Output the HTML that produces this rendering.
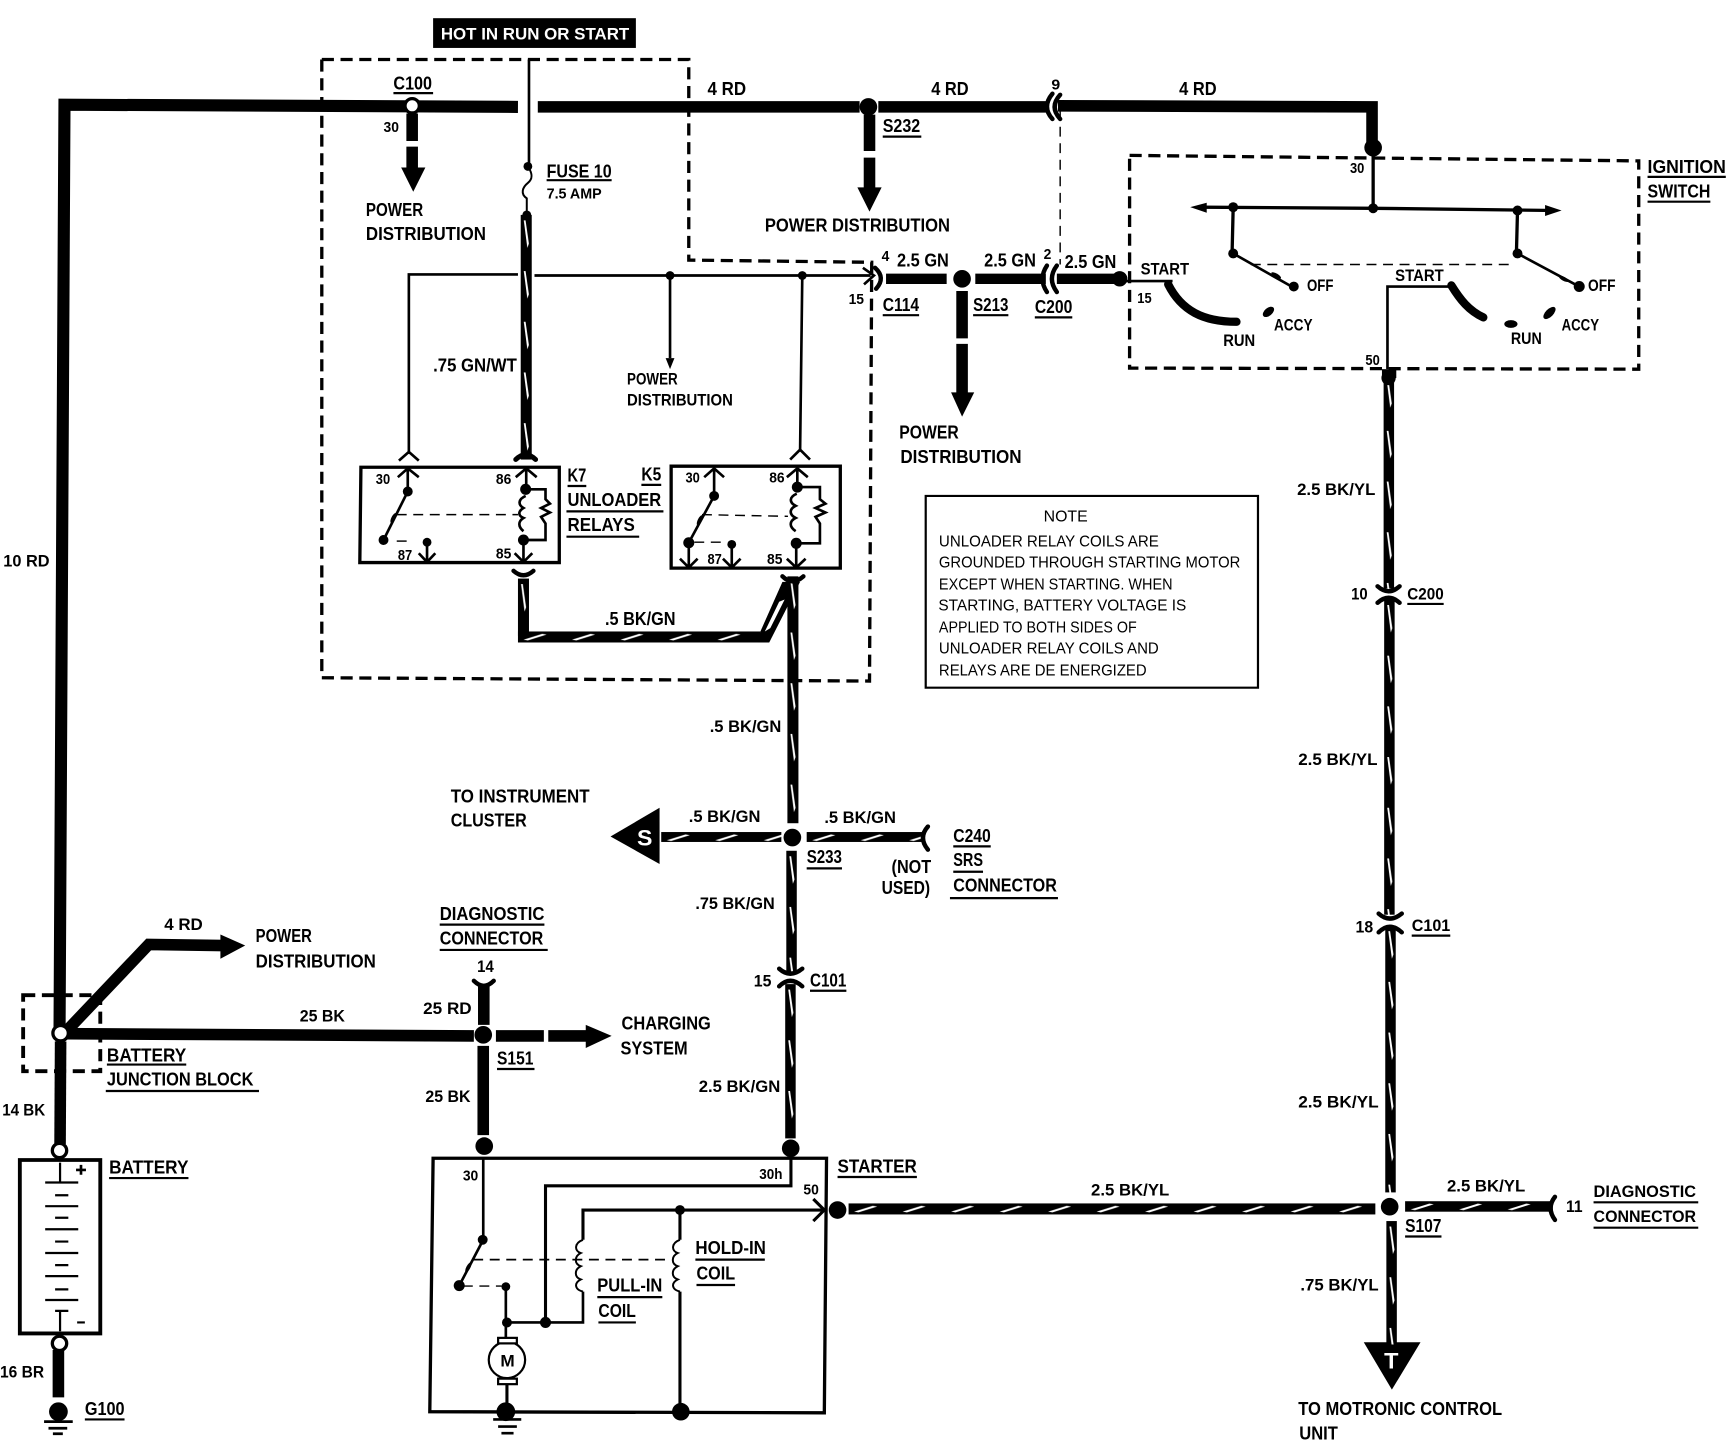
<!DOCTYPE html>
<html lang="en"><head><meta charset="utf-8"><title>Starting system wiring diagram</title>
<style>
html,body{margin:0;padding:0;background:#fff}
svg{display:block}
text{font-family:"Liberation Sans",sans-serif;font-weight:bold;font-size:17px;fill:#000;stroke:none}
.s{font-size:13.5px}
.m{font-size:15px}
.n{font-size:14px;font-weight:normal}
</style></head><body>
<svg xmlns="http://www.w3.org/2000/svg" width="1728" height="1440" viewBox="0 0 1568 1306.67">
<defs>
<pattern id="tv" patternUnits="userSpaceOnUse" width="10" height="46"><rect width="10" height="46" fill="#000"/><polygon points="2.800,5 4.400,5 7.400,26 6,30" fill="#fff"/></pattern>
<pattern id="th" patternUnits="userSpaceOnUse" width="44" height="10"><rect width="44" height="10" fill="#000"/><polygon points="5,7.500 22,2.200 26,2.800 9,8.200" fill="#fff"/></pattern>
</defs>
<rect width="1568" height="1307" fill="#fff"/>

<!-- dashed boxes -->
<g fill="none" stroke="#000" stroke-width="3" stroke-dasharray="11 6">
<path d="M292 54H625V236L791 238L789 618L292 615Z"/>
<path d="M1025 141L1487 146L1487 335L1025 334Z"/>
<path d="M21 903H91V972H21Z" stroke-width="3.500"/>
</g>

<!-- thick plain wires -->
<g fill="none" stroke="#000" stroke-width="10.500">
<path d="M54 940L58.500 95L470 97" stroke-width="11"/>
<path d="M488 97H780"/>
<path d="M797 97L950 97"/>
<path d="M960 96L1245 97V135"/>
<path d="M374 103V128M374 133V152"/>
<path d="M789 104V137M789 143V171"/>
<path d="M804 253H859M885 253H949M959 253H1014" stroke-width="9.500"/>
<path d="M873 264V307M873 312V357"/>
<path d="M55 945L54.500 1038"/>
<path d="M53 1225V1268"/>
<path d="M58 938L135 857L203 858"/>
<path d="M60 938L430 940"/>
<path d="M439 895V930M438.500 949V1030"/>
<path d="M450 940H493.500M497.500 940H532"/>
</g>

<!-- arrow heads -->
<g fill="#000">
<polygon points="364,152 386,152 375,174"/>
<polygon points="778,170 800,170 789,192"/>
<polygon points="863,356 884,356 873,378"/>
<polygon points="200,848 222.500,858 200,870"/>
<polygon points="531.500,930 555,940 531.500,951"/>
<polygon points="598.500,733 554,759 598.500,784"/>
<polygon points="1237.500,1218 1289,1218 1263,1261"/>
</g>

<!-- twisted wires -->
<g transform="translate(472.500,195)"><rect width="10" height="222" fill="url(#tv)"/></g>
<g transform="translate(470,525)"><rect width="10" height="52" fill="url(#tv)"/></g>
<g transform="translate(470,573)"><rect width="220" height="10" fill="url(#th)"/></g>
<polygon points="690,573 710,528 726,528 698,583 688,583" fill="#000"/>
<polygon points="699,570 712,544 707,546 694,573" fill="#fff"/>
<g transform="translate(714.500,523)"><rect width="10" height="224" fill="url(#tv)"/></g>
<g transform="translate(600,755)"><rect width="109" height="9" fill="url(#th)"/></g>
<g transform="translate(732,755)"><rect width="106" height="9" fill="url(#th)"/></g>
<g transform="translate(713.500,772)"><rect width="9.500" height="110" fill="url(#tv)"/></g>
<g transform="translate(712.500,893)"><rect width="9.500" height="140" fill="url(#tv)"/></g>
<g transform="translate(1255.500,340)"><rect width="9.500" height="194" fill="url(#tv)"/></g>
<g transform="translate(1256,544)"><rect width="9.500" height="286" fill="url(#tv)"/></g>
<g transform="translate(1257,840)"><rect width="9.500" height="242" fill="url(#tv)"/></g>
<g transform="translate(1258,1108)"><rect width="9.500" height="112" fill="url(#tv)"/></g>
<g transform="translate(770,1092)"><rect width="478" height="10" fill="url(#th)"/></g>
<g transform="translate(1275,1090)"><rect width="134" height="9.500" fill="url(#th)"/></g>

<!-- connectors -->
<g fill="none" stroke="#000" stroke-width="4" stroke-linecap="round">
<path d="M955 85Q945 97 955 108M962 86Q952 97 962 108"/>
<path d="M950 241Q942 253 950 265M959 241Q950 253 959 265"/>
<path d="M794 243Q804 252 795 262"/>
<path d="M1250 532Q1260 541 1270 532M1250 547Q1260 538 1270 547"/>
<path d="M1251 829Q1261 838 1272 829M1251 846Q1261 836 1272 846"/>
<path d="M707 879Q717 888 728 879M707 895Q717 885 728 895"/>
<path d="M430 890Q439 899 448 890"/>
<path d="M842 750Q833 760 842 771M1411 1086Q1403 1096 1411 1107"/>
<path d="M466 518Q475 526 484 518M710 523Q719 532 729 523"/>
<path d="M468 417Q477 408 486 417" stroke-width="4.500"/>
</g>

<!-- thin wires -->
<g fill="none" stroke="#000" stroke-width="2.400">
<path d="M480 54V150"/>
<path d="M479 151C483 157 484 162 479 166C474 170 472 176 478 180C478 186 478 190 478 195" stroke-width="1.800"/>
<path d="M470 249H371V412M362 418L371 410L380 418"/>
<path d="M485 250H790M783 243L793 250L784 258"/>
<path d="M608 250V325M728 250L726 410M717 417L726 408L735 417"/>
<path d="M1246 134V189" stroke-width="3"/>
<path d="M1090 188L1246 189L1410 191" stroke-width="3"/>
<path d="M1119 188L1118 230M1377 191L1376 230" stroke-width="3"/>
<path d="M1119 230L1172 260M1377 230L1433 260"/>
<path d="M1016 255H1064M1259 335V260H1316"/>
<!-- relay K7 -->
<path d="M361 433L370 425L380 433M370 425V446M370 446L348 490"/>
<path d="M387.500 492V510M380 502L387.500 510L395 502"/>
<path d="M468 433L477.500 425L487 433M477.500 425V444M477 444H495V453L499 457L491 461L499 465L491 469L495 475V490H475M475 490V510M467 502L475 510L483 502"/>
<path d="M477 450C470 453 470 458 475 461C470 464 470 468 475 470C470 473 470 478 475 482"/>
<!-- relay K5 -->
<path d="M639 433L648 425L657 433M648 425V450L625 492.500V515M617 507L625 515L633 507"/>
<path d="M664 494V515M656 507L664 515L672 507"/>
<path d="M714 433L723.500 425L733 433M723.500 425V442H744V453L749 457L740 461L749 465L740 469L744 475V493H722.500V515M714 507L722.500 515L731 507"/>
<path d="M723 448C716 451 716 456 722 459C716 462 716 467 722 470C716 473 716 478 722 482"/>
<!-- starter -->
<path d="M438.500 1050V1125L417 1166"/>
<path d="M459 1167V1214M460 1200H529V1172"/>
<path d="M495 1200V1076H717.700V1042" stroke-width="2.800"/>
<path d="M529 1125V1098H748M617 1098V1125M617 1172V1281M738 1088L748 1098L738 1108" stroke-width="2.800"/>
<path d="M529 1125C521 1128 521 1135 527 1137C521 1140 521 1147 527 1149C521 1152 521 1159 527 1161C521 1164 521 1170 529 1172" stroke-width="1.800"/>
<path d="M617 1125C609 1128 609 1135 615 1137C609 1140 609 1147 615 1149C609 1152 609 1159 615 1161C609 1164 609 1170 617 1172" stroke-width="1.800"/>
<path d="M460 1256V1281" stroke-width="2.800"/>
<!-- battery -->
<path d="M54.500 1055V1073M54.500 1189V1208M41 1073H71M50 1084.600H62M41 1094.500H71M50 1105H62M41 1115.400H71M50 1126.600H62M41 1137H71M50 1148H62M41 1158H71M50 1170H62M41 1179.600H71M50 1189.500H62M70 1200H77" stroke-width="2"/>
<path d="M69 1061.600H78M73.500 1057V1066"/>
<!-- grounds -->
<path d="M447.500 1288H473M452 1294.500H469M455 1300.500H466M40 1290H66M44 1296H61M48 1301H57"/>
</g>

<!-- dashed thin -->
<g fill="none" stroke="#000" stroke-width="1.300" stroke-dasharray="9 6">
<path d="M962 100V240"/>
<path d="M1135 240H1375"/>
<path d="M360 467H470"/>
<path d="M637 467L715 468.500"/>
<path d="M360 491H375"/>
<path d="M630 492H656"/>
<path d="M429.400 1143H608" stroke-width="1.600"/>
<path d="M420 1167H455"/>
</g>

<!-- boxes -->
<g fill="none" stroke="#000">
<path d="M327.500 424H507.500V510.500H326.500Z" stroke-width="3"/>
<path d="M609 423H762.500V515.500H609Z" stroke-width="3"/>
<path d="M840 450H1141.500V624H840Z" stroke-width="2"/>
<path d="M393 1051H750L748 1282L390 1281Z" stroke-width="3"/>
<path d="M18 1052.600H91V1210H18Z" stroke-width="3.500"/>
</g>

<!-- switch arcs -->
<g fill="none" stroke="#000" stroke-width="7.500" stroke-linecap="round">
<path d="M1060 258C1072 282 1092 292 1122 292"/>
<path d="M1317 259C1325 272 1333 282 1346 288"/>
</g>

<!-- nodes -->
<g fill="#000">
<circle cx="788" cy="97" r="8"/><circle cx="1246" cy="134" r="8"/>
<circle cx="479" cy="151" r="4"/><circle cx="478" cy="195" r="4"/>
<circle cx="608" cy="250" r="4"/><circle cx="728" cy="250" r="4"/>
<polygon points="604,325 612,325 608,335"/>
<circle cx="873" cy="253" r="8"/><circle cx="1016" cy="253" r="7"/>
<circle cx="1119" cy="188" r="4.500"/><circle cx="1246" cy="189" r="4.500"/><circle cx="1377" cy="191" r="4.500"/>
<circle cx="1119" cy="230" r="4.500"/><circle cx="1377" cy="230" r="4.500"/>
<circle cx="1174" cy="260" r="4.500"/><circle cx="1433" cy="260" r="5"/>
<polygon points="1095,184 1080,188 1095,193"/><polygon points="1402,186 1417,191 1402,196"/>
<ellipse cx="1151" cy="283" rx="6" ry="3.500" transform="rotate(-40 1151 283)"/>
<ellipse cx="1406" cy="284" rx="7" ry="3.500" transform="rotate(-45 1406 284)"/>
<ellipse cx="1371" cy="294" rx="6" ry="3.500"/>
<ellipse cx="1158" cy="250" rx="5" ry="1.800" transform="rotate(30 1158 250)"/>
<ellipse cx="1419" cy="253" rx="5" ry="1.800" transform="rotate(28 1419 253)"/>
<ellipse cx="357" cy="470" rx="5" ry="1.800" transform="rotate(-63 357 470)"/>
<ellipse cx="635" cy="472" rx="5" ry="1.800" transform="rotate(-63 635 472)"/>
<ellipse cx="425" cy="1150" rx="5" ry="1.800" transform="rotate(-62 425 1150)"/>
<rect x="1254" y="335" width="13" height="8"/><circle cx="1260" cy="343" r="6.500"/>
<circle cx="370" cy="446" r="4.500"/><circle cx="348" cy="490" r="4.500"/><circle cx="387.500" cy="492" r="4"/>
<circle cx="477" cy="444" r="5"/><circle cx="475" cy="490" r="5"/>
<circle cx="648" cy="450" r="4.500"/><circle cx="625" cy="492.500" r="5"/><circle cx="664" cy="494" r="4"/>
<circle cx="723.500" cy="442" r="5"/><circle cx="722.500" cy="493" r="5"/>
<circle cx="719" cy="760" r="8"/>
<circle cx="438.500" cy="939" r="8"/>
<circle cx="439.400" cy="1040" r="8"/><circle cx="717.500" cy="1042" r="8"/>
<circle cx="760" cy="1098" r="8"/><circle cx="1261" cy="1095" r="8"/>
<circle cx="438" cy="1125" r="4.500"/><circle cx="416.700" cy="1166.600" r="5"/>
<circle cx="459" cy="1167.500" r="4"/><circle cx="460" cy="1200" r="4.500"/>
<circle cx="495" cy="1200" r="5"/><circle cx="617" cy="1098" r="4.500"/>
<circle cx="459" cy="1281" r="8.500"/><circle cx="617.800" cy="1281" r="8"/>
<circle cx="53" cy="1281" r="8.500"/>
</g>

<!-- white nodes -->
<g fill="#fff" stroke="#000" stroke-width="3">
<circle cx="374" cy="96" r="6.500"/>
<circle cx="55" cy="937.500" r="7"/>
<circle cx="54" cy="1044" r="6.500"/>
<circle cx="54" cy="1219" r="6.500"/>
</g>

<!-- motor -->
<g fill="#fff" stroke="#000" stroke-width="2">
<circle cx="460" cy="1234" r="16.500"/>
<rect x="452" y="1214" width="17" height="5"/>
<rect x="452" y="1251" width="17" height="5"/>
</g>

<!-- header -->
<rect x="393" y="16.500" width="184" height="27" fill="#000"/>

<!-- underlines -->
<path fill="none" stroke="#000" stroke-width="2" d="M357 84.500H393M496 163.500H555M801 124H836M801 286H834M883 286H915M939 288H973M1495 160.500H1566M1495 183H1552M515 441H532M582 440H600M514 464H602M514 487H580M732 788H764M865 768H899M865 791H892M862 815H960M735 899H768M399 839H494M399 862H497M451 970H485M97 966H169M96 990H235M99 1069H171M77 1288H113M760 1068H832M631 1143H694M632 1166H667M542 1177H601M543 1200H577M1446 1091H1541M1446 1114H1541M1275 1122H1308M1277 548H1310M1281 849H1316"/>

<!-- labels -->
<text x="400" y="36" class="m" textLength="171" lengthAdjust="spacingAndGlyphs" style="fill:#fff">HOT IN RUN OR START</text>
<text x="357" y="81" textLength="35" lengthAdjust="spacingAndGlyphs">C100</text>
<text x="348" y="120" class="s" textLength="14" lengthAdjust="spacingAndGlyphs">30</text>
<text x="332" y="196" textLength="52" lengthAdjust="spacingAndGlyphs">POWER</text>
<text x="332" y="218" textLength="109" lengthAdjust="spacingAndGlyphs">DISTRIBUTION</text>
<text x="496" y="161" textLength="59" lengthAdjust="spacingAndGlyphs">FUSE 10</text>
<text x="496" y="180" class="s" textLength="50" lengthAdjust="spacingAndGlyphs">7.5 AMP</text>
<text x="642" y="86" textLength="35" lengthAdjust="spacingAndGlyphs">4 RD</text>
<text x="845" y="86" textLength="34" lengthAdjust="spacingAndGlyphs">4 RD</text>
<text x="954" y="81" class="s" textLength="8" lengthAdjust="spacingAndGlyphs">9</text>
<text x="1070" y="86" textLength="34" lengthAdjust="spacingAndGlyphs">4 RD</text>
<text x="801" y="120" textLength="34" lengthAdjust="spacingAndGlyphs">S232</text>
<text x="694" y="210" textLength="168" lengthAdjust="spacingAndGlyphs">POWER DISTRIBUTION</text>
<text x="816" y="398" textLength="54" lengthAdjust="spacingAndGlyphs">POWER</text>
<text x="817" y="420" textLength="110" lengthAdjust="spacingAndGlyphs">DISTRIBUTION</text>
<text x="393" y="337" textLength="76" lengthAdjust="spacingAndGlyphs">.75 GN/WT</text>
<text x="569" y="349" class="m" textLength="46" lengthAdjust="spacingAndGlyphs">POWER</text>
<text x="569" y="368" class="m" textLength="96" lengthAdjust="spacingAndGlyphs">DISTRIBUTION</text>
<text x="770" y="276" class="s" textLength="14" lengthAdjust="spacingAndGlyphs">15</text>
<text x="800" y="237" class="s" textLength="7" lengthAdjust="spacingAndGlyphs">4</text>
<text x="814" y="242" textLength="47" lengthAdjust="spacingAndGlyphs">2.5 GN</text>
<text x="801" y="282" textLength="33" lengthAdjust="spacingAndGlyphs">C114</text>
<text x="883" y="282" textLength="32" lengthAdjust="spacingAndGlyphs">S213</text>
<text x="893" y="242" textLength="47" lengthAdjust="spacingAndGlyphs">2.5 GN</text>
<text x="947" y="235" class="s" textLength="7" lengthAdjust="spacingAndGlyphs">2</text>
<text x="966" y="243" textLength="47" lengthAdjust="spacingAndGlyphs">2.5 GN</text>
<text x="939" y="284" textLength="34" lengthAdjust="spacingAndGlyphs">C200</text>
<text x="1035" y="249" class="m" textLength="44" lengthAdjust="spacingAndGlyphs">START</text>
<text x="1032" y="275" class="s" textLength="13" lengthAdjust="spacingAndGlyphs">15</text>
<text x="1186" y="264" class="m" textLength="24" lengthAdjust="spacingAndGlyphs">OFF</text>
<text x="1156" y="300" class="m" textLength="35" lengthAdjust="spacingAndGlyphs">ACCY</text>
<text x="1110" y="314" class="m" textLength="29" lengthAdjust="spacingAndGlyphs">RUN</text>
<text x="1266" y="255" class="m" textLength="44" lengthAdjust="spacingAndGlyphs">START</text>
<text x="1239" y="331" class="s" textLength="13" lengthAdjust="spacingAndGlyphs">50</text>
<text x="1441" y="264" class="m" textLength="25" lengthAdjust="spacingAndGlyphs">OFF</text>
<text x="1417" y="300" class="m" textLength="34" lengthAdjust="spacingAndGlyphs">ACCY</text>
<text x="1371" y="312" class="m" textLength="28" lengthAdjust="spacingAndGlyphs">RUN</text>
<text x="1225" y="157" class="s" textLength="13" lengthAdjust="spacingAndGlyphs">30</text>
<text x="1495" y="157" textLength="71" lengthAdjust="spacingAndGlyphs">IGNITION</text>
<text x="1495" y="179" textLength="57" lengthAdjust="spacingAndGlyphs">SWITCH</text>

<text x="947" y="473" class="n" textLength="40" lengthAdjust="spacingAndGlyphs">NOTE</text>
<text x="852" y="496" class="n" textLength="199.500" lengthAdjust="spacingAndGlyphs">UNLOADER RELAY COILS ARE</text>
<text x="852" y="515" class="n" textLength="273.500" lengthAdjust="spacingAndGlyphs">GROUNDED THROUGH STARTING MOTOR</text>
<text x="852" y="535" class="n" textLength="212" lengthAdjust="spacingAndGlyphs">EXCEPT WHEN STARTING. WHEN</text>
<text x="851.500" y="554" class="n" textLength="225" lengthAdjust="spacingAndGlyphs">STARTING, BATTERY VOLTAGE IS</text>
<text x="852" y="574" class="n" textLength="179.500" lengthAdjust="spacingAndGlyphs">APPLIED TO BOTH SIDES OF</text>
<text x="852" y="593" class="n" textLength="199.500" lengthAdjust="spacingAndGlyphs">UNLOADER RELAY COILS AND</text>
<text x="852" y="613" class="n" textLength="188.500" lengthAdjust="spacingAndGlyphs">RELAYS ARE DE ENERGIZED</text>

<text x="515" y="437" textLength="17" lengthAdjust="spacingAndGlyphs">K7</text>
<text x="582" y="436" textLength="18" lengthAdjust="spacingAndGlyphs">K5</text>
<text x="515" y="459" textLength="85" lengthAdjust="spacingAndGlyphs">UNLOADER</text>
<text x="515" y="482" textLength="61" lengthAdjust="spacingAndGlyphs">RELAYS</text>
<text x="341" y="439" class="s" textLength="13" lengthAdjust="spacingAndGlyphs">30</text>
<text x="450" y="439" class="s" textLength="14" lengthAdjust="spacingAndGlyphs">86</text>
<text x="361" y="508" class="s" textLength="13" lengthAdjust="spacingAndGlyphs">87</text>
<text x="450" y="507" class="s" textLength="14" lengthAdjust="spacingAndGlyphs">85</text>
<text x="622" y="438" class="s" textLength="13" lengthAdjust="spacingAndGlyphs">30</text>
<text x="698" y="438" class="s" textLength="14" lengthAdjust="spacingAndGlyphs">86</text>
<text x="642" y="512" class="s" textLength="13" lengthAdjust="spacingAndGlyphs">87</text>
<text x="696" y="512" class="s" textLength="14" lengthAdjust="spacingAndGlyphs">85</text>
<text x="549" y="567" textLength="64" lengthAdjust="spacingAndGlyphs">.5 BK/GN</text>
<text x="3" y="514" class="m" textLength="42" lengthAdjust="spacingAndGlyphs">10 RD</text>
<text x="644" y="664" class="m" textLength="65" lengthAdjust="spacingAndGlyphs">.5 BK/GN</text>
<text x="409" y="728" textLength="126" lengthAdjust="spacingAndGlyphs">TO INSTRUMENT</text>
<text x="409" y="750" textLength="69" lengthAdjust="spacingAndGlyphs">CLUSTER</text>
<text x="625" y="746" class="m" textLength="65" lengthAdjust="spacingAndGlyphs">.5 BK/GN</text>
<text x="748" y="747" class="m" textLength="65" lengthAdjust="spacingAndGlyphs">.5 BK/GN</text>
<text x="578" y="767" style="fill:#fff;font-size:20px" textLength="14" lengthAdjust="spacingAndGlyphs">S</text>
<text x="732" y="783" textLength="32" lengthAdjust="spacingAndGlyphs">S233</text>
<text x="865" y="764" textLength="34" lengthAdjust="spacingAndGlyphs">C240</text>
<text x="865" y="786" textLength="27" lengthAdjust="spacingAndGlyphs">SRS</text>
<text x="865" y="809" textLength="94" lengthAdjust="spacingAndGlyphs">CONNECTOR</text>
<text x="809" y="792" textLength="36" lengthAdjust="spacingAndGlyphs">(NOT</text>
<text x="800" y="811" textLength="44" lengthAdjust="spacingAndGlyphs">USED)</text>
<text x="631" y="825" class="m" textLength="72" lengthAdjust="spacingAndGlyphs">.75 BK/GN</text>
<text x="684" y="895" class="m" textLength="16" lengthAdjust="spacingAndGlyphs">15</text>
<text x="735" y="895" textLength="33" lengthAdjust="spacingAndGlyphs">C101</text>
<text x="634" y="991" class="m" textLength="74" lengthAdjust="spacingAndGlyphs">2.5 BK/GN</text>
<text x="149" y="844" class="m" textLength="35" lengthAdjust="spacingAndGlyphs">4 RD</text>
<text x="232" y="855" textLength="51" lengthAdjust="spacingAndGlyphs">POWER</text>
<text x="232" y="878" textLength="109" lengthAdjust="spacingAndGlyphs">DISTRIBUTION</text>
<text x="399" y="835" textLength="95" lengthAdjust="spacingAndGlyphs">DIAGNOSTIC</text>
<text x="399" y="857" textLength="94" lengthAdjust="spacingAndGlyphs">CONNECTOR</text>
<text x="433" y="882" class="m" textLength="15" lengthAdjust="spacingAndGlyphs">14</text>
<text x="272" y="927" class="m" textLength="41" lengthAdjust="spacingAndGlyphs">25 BK</text>
<text x="384" y="920" class="m" textLength="44" lengthAdjust="spacingAndGlyphs">25 RD</text>
<text x="451" y="966" textLength="33" lengthAdjust="spacingAndGlyphs">S151</text>
<text x="386" y="1000" class="m" textLength="41" lengthAdjust="spacingAndGlyphs">25 BK</text>
<text x="564" y="934" textLength="81" lengthAdjust="spacingAndGlyphs">CHARGING</text>
<text x="563" y="957" textLength="61" lengthAdjust="spacingAndGlyphs">SYSTEM</text>
<text x="97" y="963" textLength="72" lengthAdjust="spacingAndGlyphs">BATTERY</text>
<text x="97" y="985" textLength="133" lengthAdjust="spacingAndGlyphs">JUNCTION BLOCK</text>
<text x="2" y="1012" class="m" textLength="39" lengthAdjust="spacingAndGlyphs">14 BK</text>
<text x="99" y="1065" textLength="72" lengthAdjust="spacingAndGlyphs">BATTERY</text>
<text x="0" y="1250" class="m" textLength="40" lengthAdjust="spacingAndGlyphs">16 BR</text>
<text x="77" y="1284" textLength="36" lengthAdjust="spacingAndGlyphs">G100</text>
<text x="420" y="1071" class="s" textLength="14" lengthAdjust="spacingAndGlyphs">30</text>
<text x="689" y="1070" class="s" textLength="21" lengthAdjust="spacingAndGlyphs">30h</text>
<text x="729" y="1084" class="s" textLength="14" lengthAdjust="spacingAndGlyphs">50</text>
<text x="760" y="1064" textLength="72" lengthAdjust="spacingAndGlyphs">STARTER</text>
<text x="631" y="1138" textLength="64" lengthAdjust="spacingAndGlyphs">HOLD-IN</text>
<text x="632" y="1161" textLength="35" lengthAdjust="spacingAndGlyphs">COIL</text>
<text x="542" y="1172" textLength="59" lengthAdjust="spacingAndGlyphs">PULL-IN</text>
<text x="543" y="1195" textLength="34" lengthAdjust="spacingAndGlyphs">COIL</text>
<text x="454" y="1240" class="m" textLength="13" lengthAdjust="spacingAndGlyphs">M</text>
<text x="990" y="1085" class="m" textLength="71" lengthAdjust="spacingAndGlyphs">2.5 BK/YL</text>
<text x="1313" y="1081" class="m" textLength="71" lengthAdjust="spacingAndGlyphs">2.5 BK/YL</text>
<text x="1421" y="1100" class="m" textLength="15" lengthAdjust="spacingAndGlyphs">11</text>
<text x="1446" y="1086" class="m" textLength="93" lengthAdjust="spacingAndGlyphs">DIAGNOSTIC</text>
<text x="1446" y="1109" class="m" textLength="93" lengthAdjust="spacingAndGlyphs">CONNECTOR</text>
<text x="1275" y="1118" textLength="33" lengthAdjust="spacingAndGlyphs">S107</text>
<text x="1180" y="1171" class="m" textLength="71" lengthAdjust="spacingAndGlyphs">.75 BK/YL</text>
<text x="1256" y="1242" style="fill:#fff;font-size:20px" textLength="13" lengthAdjust="spacingAndGlyphs">T</text>
<text x="1178" y="1284" textLength="185" lengthAdjust="spacingAndGlyphs">TO MOTRONIC CONTROL</text>
<text x="1179" y="1306" textLength="35" lengthAdjust="spacingAndGlyphs">UNIT</text>
<text x="1177" y="449" class="m" textLength="71" lengthAdjust="spacingAndGlyphs">2.5 BK/YL</text>
<text x="1226" y="544" class="m" textLength="15" lengthAdjust="spacingAndGlyphs">10</text>
<text x="1277" y="544" class="m" textLength="33" lengthAdjust="spacingAndGlyphs">C200</text>
<text x="1178" y="694" class="m" textLength="72" lengthAdjust="spacingAndGlyphs">2.5 BK/YL</text>
<text x="1230" y="846" class="m" textLength="16" lengthAdjust="spacingAndGlyphs">18</text>
<text x="1281" y="845" class="m" textLength="35" lengthAdjust="spacingAndGlyphs">C101</text>
<text x="1178" y="1005" class="m" textLength="73" lengthAdjust="spacingAndGlyphs">2.5 BK/YL</text>
</svg>
</body></html>
